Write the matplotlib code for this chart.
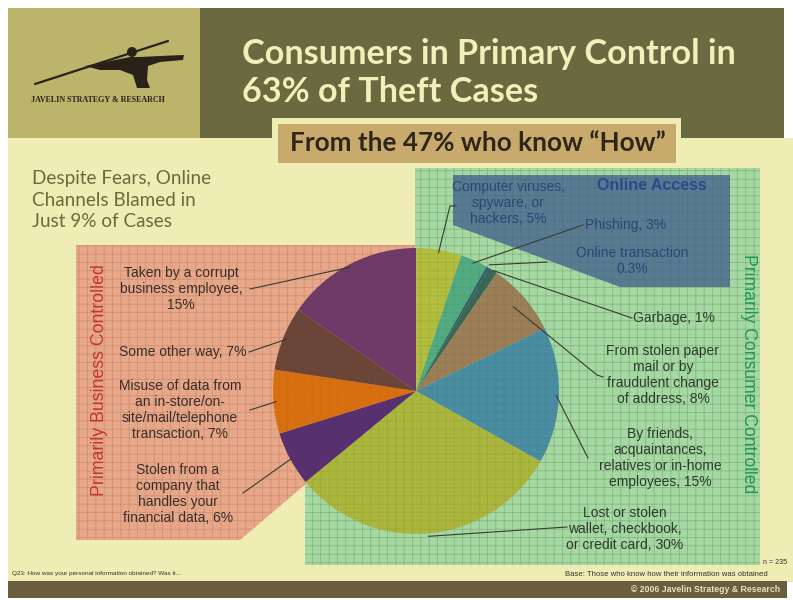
import matplotlib
matplotlib.use('Agg')
import matplotlib.pyplot as plt
from matplotlib.patches import Polygon, Rectangle, Circle
import numpy as np

plt.rcParams['hatch.linewidth'] = 0.5

# ---------------- data ----------------
categories = ["Computer viruses, spyware, or hackers", "Phishing", "Online transaction", "Garbage",
              "From stolen paper mail or by fraudulent change of address",
              "By friends, acquaintances, relatives or in-home employees",
              "Lost or stolen wallet, checkbook, or credit card",
              "Stolen from a company that handles your financial data",
              "Misuse of data from an in-store/on-site/mail/telephone transaction",
              "Some other way", "Taken by a corrupt business employee"]
values = [5, 3, 0.3, 1, 8, 15, 30, 6, 7, 7, 15]
labels = ["Computer viruses,\nspyware, or\nhackers, 5%",
          "Phishing, 3%",
          "Online transaction\n0.3%",
          "Garbage, 1%",
          "From stolen paper\nmail or by\nfraudulent change\nof address, 8%",
          "By friends,\nacquaintances,\nrelatives or in-home\nemployees, 15%",
          "Lost or stolen\nwallet, checkbook,\nor credit card, 30%",
          "Stolen from a\ncompany that\nhandles your\nfinancial data, 6%",
          "Misuse of data from\nan in-store/on-\nsite/mail/telephone\ntransaction, 7%",
          "Some other way, 7%",
          "Taken by a corrupt\nbusiness employee,\n15%"]
slice_colors = ["#b3bd3e", "#52ab80", "#2f5d6e", "#3c6656", "#9c7f57", "#4a8da2",
                "#abb63c", "#57306f", "#d8700f", "#6b4538", "#6f3a68"]

title = "Consumers in Primary Control in\n63% of Theft Cases"
subtitle = "From the 47% who know \u201cHow\u201d"
side_note = "Despite Fears, Online\nChannels Blamed in\nJust 9% of Cases"

# ---------------- layout ----------------
W, H = 793, 600
CX, CY, R = 416, 391, 143

# label centers (pixels), text colors
label_pos = [(508, 203), (626, 225), (632, 261), (674, 318), (663, 375), (660, 458),
             (625, 529), (178, 494), (180, 410), (183, 352), (181, 289)]
label_col = ["#2b4676", "#2b4676", "#2b4676"] + ["#2e3a2e"] * 4 + ["#3a2e2a"] * 4
# leader waypoints after the pie point
leader_pts = [[(450, 206), (456, 206)], [(583, 225)], [(547, 262)], [(632, 318)],
              [(597, 375), (603, 377)], [(588, 458)], [(567, 527)],
              [(243, 493)], [(250, 410)], [(249, 352)], [(250, 289)]]
leader_r = [0.98, 0.98, 1.02, 1.0, 0.9, 0.98, 1.02, 0.98, 0.98, 0.98, 0.98]

fig = plt.figure(figsize=(W / 100, H / 100), dpi=100)
fig.patch.set_facecolor("white")

bg = fig.add_axes([0, 0, 1, 1])
bg.set_xlim(0, W)
bg.set_ylim(H, 0)
bg.axis("off")

cream = "#efecb4"
bg.add_patch(Rectangle((8, 8), W - 8, 574, color=cream, lw=0))
bg.add_patch(Rectangle((784, 0), 9, 138, color="white", lw=0))
# logo box
bg.add_patch(Rectangle((8, 8), 192, 130, color="#bdb46c", lw=0))
# header
bg.add_patch(Polygon([(200, 8), (784, 8), (784, 138), (681, 138), (681, 118), (272, 118),
                      (272, 138), (200, 138)], closed=True, color="#6b6940", lw=0))
bg.add_patch(Rectangle((278, 124), 398, 39, color="#c8ab6c", lw=0))

# regions
salmon_poly = [(76, 245), (415, 245), (415, 391), (240, 540), (76, 540)]
green_poly = [(415, 168), (760, 168), (760, 565), (305, 565), (305, 485), (415, 391)]
bg.add_patch(Polygon(salmon_poly, closed=True, facecolor="#e7a788", lw=0))
bg.add_patch(Polygon(salmon_poly, closed=True, facecolor="none", edgecolor="#d69879",
                     hatch="++", lw=0))
bg.add_patch(Polygon(green_poly, closed=True, facecolor="#a6d8a2", lw=0))
bg.add_patch(Polygon(green_poly, closed=True, facecolor="none", edgecolor="#8dc48d",
                     hatch="++", lw=0))
blue_poly = [(453, 175), (730, 175), (730, 287), (620, 287), (453, 225)]
bg.add_patch(Polygon(blue_poly, closed=True, facecolor="#4d6e90", alpha=0.88, lw=0))

# logo
bg.plot([35, 168], [84, 41], color="#2a2218", lw=1.6, solid_capstyle="round")
bg.add_patch(Polygon([(85, 66), (105, 62), (125, 58), (130, 57), (140, 57), (160, 56),
                      (184, 55), (183, 60), (160, 62), (148, 66), (147, 80), (150, 88),
                      (137, 88), (133, 75), (120, 70), (100, 70)],
                     closed=True, color="#2a2218", lw=0))
bg.add_patch(Circle((132, 52), 5, color="#2a2218", lw=0))
bg.text(98, 100, "JAVELIN STRATEGY & RESEARCH", ha="center", va="center", fontsize=5.8,
        family="Liberation Serif", weight="bold", color="#2a2218")

# titles
bg.text(242, 64, title.split("\n")[0], ha="left", va="baseline", fontsize=24.6,
        family="Lato", weight="bold", color="#f3efb8")
bg.text(242, 102, title.split("\n")[1], ha="left", va="baseline", fontsize=24.6,
        family="Lato", weight="bold", color="#f3efb8")
bg.text(290, 151, subtitle, ha="left", va="baseline", fontsize=18.8, family="Lato",
        weight="bold", color="#2e2618")
bg.text(32, 200, side_note, ha="left", va="center", fontsize=13.6, family="Lato",
        color="#6b6a3c", linespacing=1.3)

# vertical texts
bg.text(100, 380, "Primarily Business Controlled", rotation=90, ha="center", va="center",
        fontsize=12.8, family="Liberation Sans", color="#c6372a")
bg.text(748, 374, "Primarily Consumer Controlled", rotation=-90, ha="center", va="center",
        fontsize=12.7, family="Liberation Sans", color="#1f9a5c")
bg.text(652, 185, "Online Access", ha="center", va="center", fontsize=11.5,
        family="Liberation Sans", weight="bold", color="#2a4a8c")

# footer
bg.add_patch(Rectangle((8, 581), 779, 17, color="#6b5d3f", lw=0))
bg.text(12, 574, "Q23: How was your personal information obtained? Was it...", ha="left",
        va="center", fontsize=4.6, family="Liberation Sans", color="#333333")
bg.text(763, 563, "n = 235", ha="left", va="center", fontsize=5, family="Liberation Sans",
        color="#333333")
bg.text(565, 575, "Base: Those who know how their information was obtained", ha="left",
        va="center", fontsize=5.6, family="Liberation Sans", color="#333333")
bg.text(780, 590, "\u00a9 2006 Javelin Strategy & Research", ha="right", va="center",
        fontsize=6.3, family="Liberation Sans", weight="bold", color="#e8e2c0")

# ---------------- pie ----------------
axp = fig.add_axes([(CX - R) / W, (H - CY - R) / H, 2 * R / W, 2 * R / H])
wedges, _ = axp.pie(values, colors=slice_colors, startangle=90, counterclock=False,
                    radius=1, wedgeprops=dict(linewidth=0))
axp.set_xlim(-1, 1)
axp.set_ylim(-1, 1)

# ---------------- overlay ----------------
top = fig.add_axes([0, 0, 1, 1])
top.set_xlim(0, W)
top.set_ylim(H, 0)
top.axis("off")
top.patch.set_alpha(0)
top.add_patch(Polygon(green_poly, closed=True, facecolor="none",
                      edgecolor=(0.2, 0.35, 0.2, 0.15), hatch="++", lw=0))
top.add_patch(Polygon(salmon_poly, closed=True, facecolor="none",
                      edgecolor=(0.35, 0.2, 0.15, 0.08), hatch="++", lw=0))

for w, lab, pos, col, pts, rr in zip(wedges, labels, label_pos, label_col, leader_pts, leader_r):
    a = np.deg2rad((w.theta1 + w.theta2) / 2)
    sx, sy = CX + rr * R * np.cos(a), CY - rr * R * np.sin(a)
    xs = [sx] + [p[0] for p in pts]
    ys = [sy] + [p[1] for p in pts]
    top.plot(xs, ys, color="#3a3a30", lw=0.8)
    top.text(pos[0], pos[1], lab, ha="center", va="center", fontsize=10,
             family="Liberation Sans", color=col, linespacing=1.2)

fig.savefig("out.png", dpi=100)
